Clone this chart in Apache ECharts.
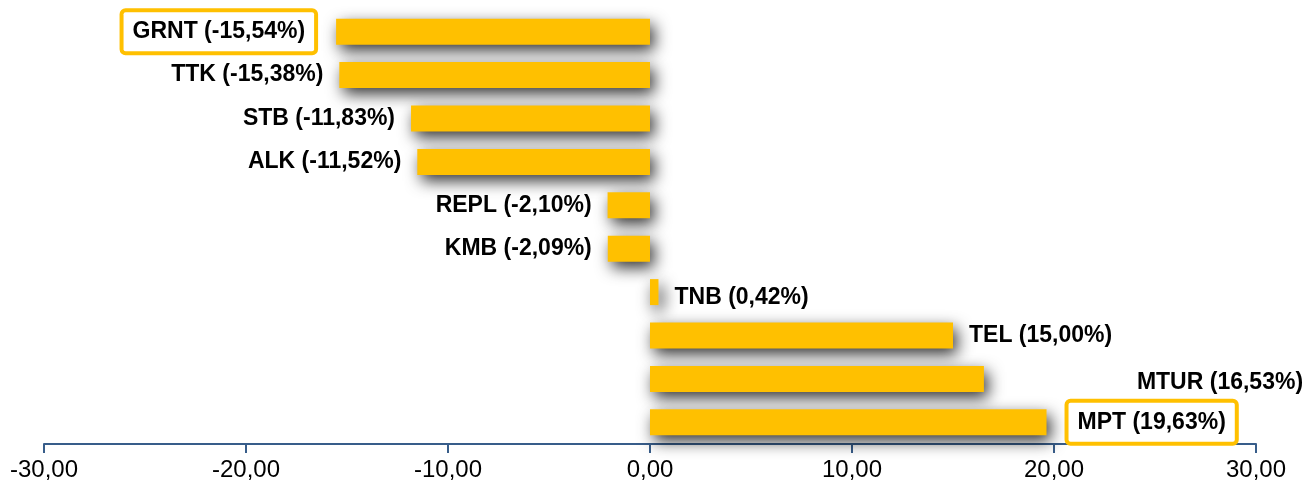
<!DOCTYPE html>
<html>
<head>
<meta charset="utf-8">
<script src="https://cdn.jsdelivr.net/npm/echarts@6/dist/echarts.min.js"></script>
<style>
  html, body { margin: 0; padding: 0; background: #fff; }
  #chart { width: 1308px; height: 491px; }
</style>
</head>
<body>
<div id="chart"></div>
<script>
// 数据
const categories = ['GRNT', 'TTK', 'STB', 'ALK', 'REPL', 'KMB', 'TNB', 'TEL', 'MTUR', 'MPT']
const changes = [-15.54, -15.38, -11.83, -11.52, -2.10, -2.09, 0.42, 15.00, 16.53, 19.63]
const highlighted = ['GRNT', 'MPT']
const axisTicks = [-30, -20, -10, 0, 10, 20, 30]

const fmt = v => v.toFixed(2).replace('.', ',')

const barData = changes.map((v, i) => {
  const name = categories[i]
  const label = { position: v < 0 ? 'left' : 'right' }
  if (highlighted.includes(name)) { // 加框标签
    label.borderColor = '#FFC000'
    label.borderWidth = 4
    label.borderRadius = 2
    label.backgroundColor = '#fff'
    label.padding = [9, 9, 7, 9]
    label.distance = 22
  }
  if (name === 'MTUR') label.offset = [137, 4]
  if (name === 'TNB') label.offset = [0, 6]
  return { value: v, label }
})

const chart = echarts.init(document.getElementById('chart'))
chart.setOption({
  animation: false,
  grid: { left: 44, right: 52, top: 10, bottom: 47, containLabel: false },
  xAxis: {
    type: 'value',
    min: axisTicks[0],
    max: axisTicks[axisTicks.length - 1],
    interval: 10,
    splitLine: { show: false },
    axisLine: { show: true, onZero: false, lineStyle: { color: '#385D8A', width: 2 } },
    axisTick: { show: true, length: 9, lineStyle: { color: '#385D8A', width: 2 } },
    axisLabel: {
      formatter: v => fmt(v),
      color: '#000',
      fontFamily: 'Liberation Sans',
      fontSize: 24,
      margin: 14
    }
  },
  yAxis: {
    type: 'category',
    data: categories,
    inverse: true,
    show: false
  },
  series: [{
    type: 'bar',
    data: barData,
    barWidth: 26,
    itemStyle: {
      color: '#FFC000',
      shadowBlur: 16,
      shadowColor: 'rgba(0,0,0,0.8)',
      shadowOffsetX: 4,
      shadowOffsetY: 6
    },
    label: {
      show: true,
      distance: 16,
      color: '#000',
      fontFamily: 'Liberation Sans',
      fontWeight: 'bold',
      fontSize: 23,
      formatter: p => `${p.name} (${fmt(p.value)}%)`
    }
  }]
})
</script>
</body>
</html>
